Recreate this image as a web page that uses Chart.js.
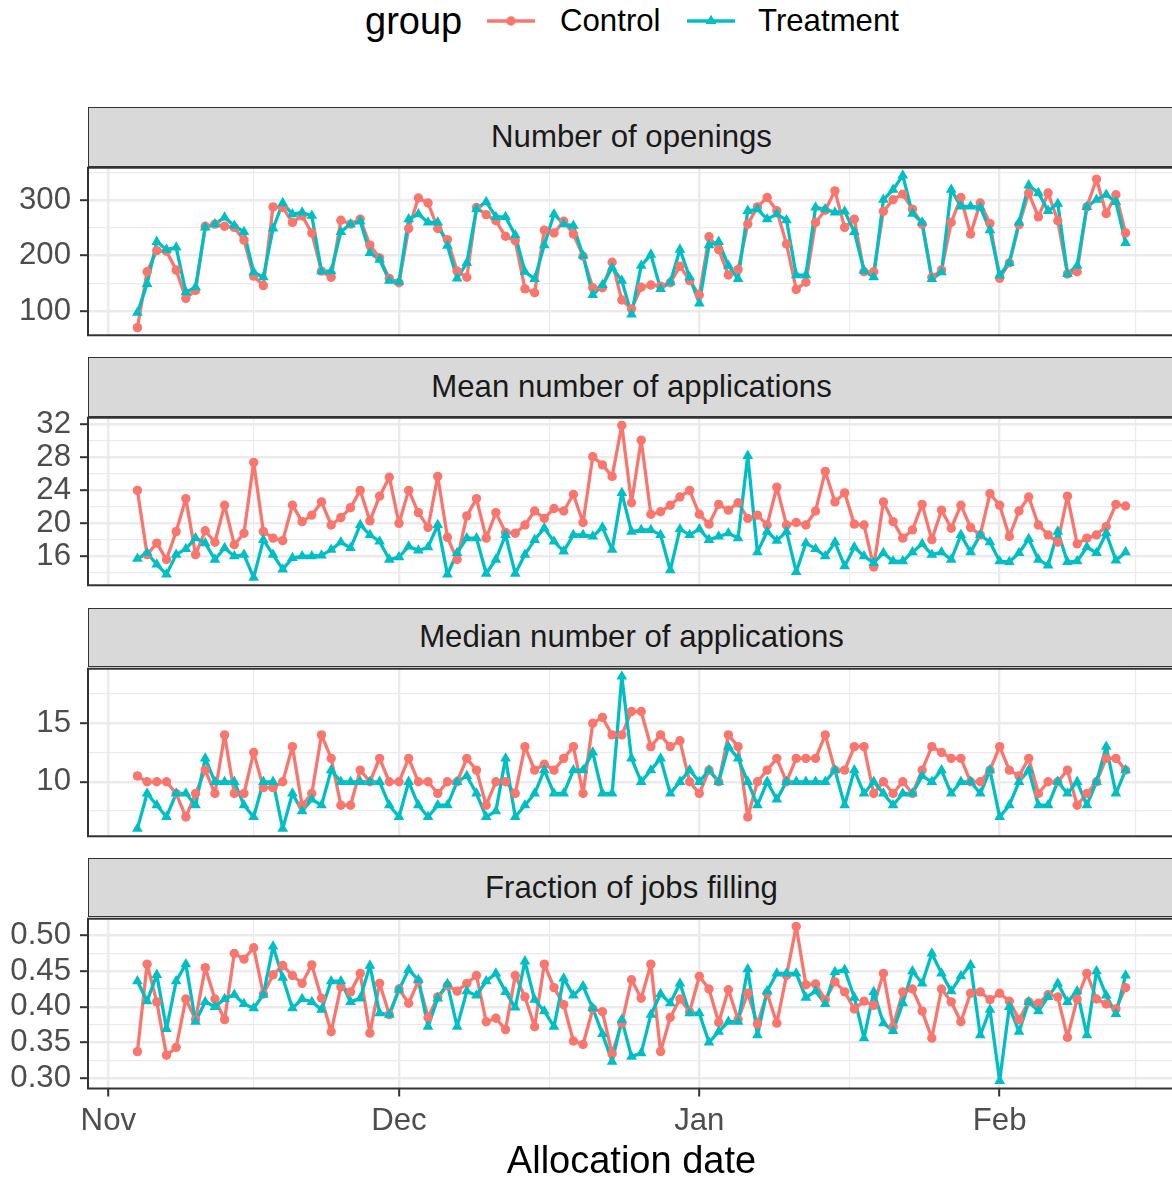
<!DOCTYPE html>
<html>
<head>
<meta charset="utf-8">
<script src="https://cdn.jsdelivr.net/npm/chart.js@4.4.1/dist/chart.umd.min.js"></script>
<style>
  html, body { margin: 0; padding: 0; background: #ffffff; overflow: hidden; width: 1172px; height: 1178px; }
  body { position: relative; font-family: "Liberation Sans", Arial, Helvetica, sans-serif; }
  canvas { position: absolute; left: 0; }
  .strip { position: absolute; left: 88px; width: 1087px; background: #D9D9D9; border: 1.5px solid #333333;
           box-sizing: border-box; display: flex; align-items: center; justify-content: center;
           font-size: 31.2px; color: #1A1A1A; z-index: 2; }
  .lg { position: absolute; top: 21px; transform: translateY(-50%); white-space: nowrap; line-height: 1; }
</style>
</head>
<body>
<div class="lg" style="left:365px;font-size:38px;color:#000;">group</div>
<svg class="lg" style="left:487px" width="48" height="30">
  <line x1="0" y1="15" x2="48" y2="15" stroke="#F8766D" stroke-width="3.3"/>
  <circle cx="24" cy="15" r="4.7" fill="#F8766D"/>
</svg>
<div class="lg" style="left:560px;font-size:31.2px;color:#000;">Control</div>
<svg class="lg" style="left:687px" width="48" height="30">
  <line x1="0" y1="15" x2="48" y2="15" stroke="#00BFC4" stroke-width="3.3"/>
  <polygon points="24,8.8 29.4,18.1 18.6,18.1" fill="#00BFC4"/>
</svg>
<div class="lg" style="left:758px;font-size:31.2px;color:#000;">Treatment</div>

<script>
// Allocation dates, as days since 1 November (4 Nov ... 13 Feb)
const dayOffsets = [];
for (let d = 3; d <= 105; d++) dayOffsets.push(d);

// Month axis
const monthStarts = [-31, 0, 30, 61, 92, 120];          // Oct 1 ... Mar 1
const monthTickValues = [0, 30, 61, 92];
const monthTickLabels = ['Nov', 'Dec', 'Jan', 'Feb'];

// Number of openings
const openingsControl = [70,171,209,208,174,123,137,253,257,253,251,228,163,146,288,287,260,272,241,172,161,264,257,266,219,196,159,151,249,304,295,249,229,172,161,287,274,263,235,227,140,133,246,241,262,239,199,142,142,188,120,104,143,147,145,151,181,155,129,234,211,165,175,257,288,305,281,221,139,152,260,282,317,251,266,171,171,280,301,311,284,257,161,174,260,305,239,295,258,159,187,256,313,270,313,263,167,171,288,338,276,310,241];
const openingsTreatment = [97,149,225,211,215,134,143,251,257,269,254,243,170,161,249,295,275,278,272,172,172,243,257,262,205,193,155,153,266,275,260,260,218,159,187,284,297,270,270,237,171,158,219,275,257,254,200,129,147,178,155,94,182,202,140,152,211,161,114,219,225,182,158,281,284,266,275,264,165,165,287,284,278,280,243,173,161,301,319,345,276,260,158,170,319,289,289,287,246,165,187,260,327,313,281,294,167,182,288,301,310,297,223];
const openingsTicks = [100, 200, 300];

// Mean number of applications
const meanAppsControl = [24.0,16.2,17.6,15.6,19.0,23.0,16.2,19.1,17.7,22.2,17.4,18.8,27.4,19.0,18.2,17.9,22.2,20.2,21.0,22.6,19.8,20.7,21.9,24.0,20.3,23.3,25.6,20.0,24.0,21.3,19.5,25.7,18.3,15.6,20.9,23.0,18.2,21.3,18.9,18.8,19.8,21.5,20.6,21.8,21.5,23.5,20.1,28.1,27.1,25.7,31.9,22.5,30.1,21.1,21.4,22.2,23.2,24.0,21.1,19.9,22.3,21.6,22.5,20.6,21.0,19.8,24.4,19.8,20.1,19.8,21.5,26.3,22.6,23.7,19.9,19.8,14.7,22.6,20.2,18.2,19.2,22.3,18.0,21.6,19.4,22.2,19.5,18.6,23.6,22.2,18.4,21.5,23.2,19.8,18.6,17.7,23.3,17.5,18.2,18.6,19.6,22.3,22.1];
const meanAppsTreatment = [15.7,16.4,15.0,13.8,16.2,16.9,18.2,17.6,15.6,17.0,16.0,16.2,13.4,18.0,16.2,14.4,15.8,16.0,16.0,16.1,16.8,17.7,17.0,19.8,18.6,17.8,15.6,15.9,17.2,16.7,17.1,19.8,13.8,16.4,18.2,18.2,13.9,15.6,18.6,13.9,16.2,18.0,19.4,17.8,16.6,18.6,18.6,18.4,19.5,16.8,23.7,19.0,19.2,19.2,18.6,14.3,19.3,18.6,19.3,18.0,18.4,18.8,18.2,28.2,16.5,19.0,17.9,19.0,14.1,17.6,16.9,16.0,17.7,14.8,17.1,16.0,15.2,16.4,15.4,15.4,16.5,17.5,16.2,16.5,15.6,18.6,16.5,18.6,17.7,15.4,15.3,16.4,18.1,15.6,14.9,19.0,15.3,15.4,17.1,16.4,18.8,15.5,16.5];
const meanAppsTicks = [16, 20, 24, 28, 32];

// Median number of applications
const medianAppsControl = [10.5,10,10,10,9,7,9,11,9,14,9,9,12.5,9.5,9.5,10,13,8,9,14,12,8,8,11,10,12,10,10,12,10,10,9,10,10,12,11,8,10,10,9,13,11,11.5,11,12,13,9,15,15.5,14,14,16,16,13,14,13,13.5,10,9,11,10,14,13,7,10,11,12,10,12,12,12,14,11,11,13,13,9,10,9,10,9,11,13,12.5,12,12,10,10,11,13,11,10.5,12,9,10,10,11,8,9,10,12,12,11];
const medianAppsTreatment = [6,9,8,7,9,9,8,12,10,10,10,8,7,10,10,6,9,7.5,8.5,8,11,10,10,10,10,10,8,7,10,8,7,8,8,10,10.5,9,7,7.5,12,7,8,9,11,9,9,11,11,12.5,9,9,19,12,10,11,12,9,10,11,10,11,10,13,12,10,8,10,8.5,10,10,10,10,10,11,8,11,9,10,9,8,9,9,10.5,10,11,9,10,10,9,11,7,8,10,11,8,8,10,9,10,8,10,13,9,11];
const medianAppsTicks = [10, 15];

// Fraction of jobs filling
const fillControl = [0.337,0.460,0.407,0.332,0.343,0.411,0.382,0.455,0.411,0.382,0.475,0.467,0.483,0.418,0.445,0.458,0.444,0.433,0.459,0.412,0.365,0.428,0.421,0.447,0.363,0.433,0.389,0.425,0.405,0.436,0.385,0.414,0.430,0.422,0.433,0.444,0.379,0.384,0.368,0.444,0.414,0.372,0.460,0.427,0.403,0.352,0.347,0.397,0.393,0.334,0.377,0.438,0.412,0.460,0.337,0.385,0.411,0.393,0.443,0.425,0.378,0.424,0.382,0.419,0.376,0.419,0.377,0.444,0.513,0.431,0.432,0.410,0.435,0.421,0.397,0.408,0.402,0.447,0.372,0.421,0.425,0.394,0.356,0.425,0.407,0.379,0.419,0.421,0.410,0.419,0.408,0.382,0.407,0.405,0.417,0.414,0.357,0.411,0.447,0.411,0.404,0.397,0.427];
const fillTreatment = [0.436,0.408,0.445,0.369,0.436,0.460,0.379,0.407,0.400,0.411,0.417,0.404,0.398,0.417,0.485,0.441,0.398,0.411,0.407,0.396,0.436,0.436,0.407,0.412,0.458,0.391,0.389,0.424,0.452,0.438,0.372,0.412,0.432,0.372,0.422,0.416,0.436,0.447,0.421,0.399,0.464,0.410,0.394,0.372,0.440,0.416,0.429,0.398,0.362,0.323,0.382,0.330,0.335,0.389,0.418,0.405,0.433,0.391,0.391,0.350,0.365,0.379,0.379,0.453,0.360,0.422,0.447,0.447,0.447,0.413,0.422,0.404,0.449,0.452,0.413,0.356,0.421,0.377,0.366,0.405,0.450,0.433,0.475,0.447,0.422,0.443,0.459,0.360,0.396,0.296,0.400,0.365,0.407,0.394,0.414,0.433,0.407,0.422,0.360,0.450,0.416,0.390,0.444];
const fillTicks = [0.30, 0.35, 0.40, 0.45, 0.50];

// Facet panels, top to bottom
const panels = [
  { title: 'Number of openings', control: openingsControl, treatment: openingsTreatment, ticks: openingsTicks, fmt: v => String(v) },
  { title: 'Mean number of applications', control: meanAppsControl, treatment: meanAppsTreatment, ticks: meanAppsTicks, fmt: v => String(v) },
  { title: 'Median number of applications', control: medianAppsControl, treatment: medianAppsTreatment, ticks: medianAppsTicks, fmt: v => String(v) },
  { title: 'Fraction of jobs filling', control: fillControl, treatment: fillTreatment, ticks: fillTicks, fmt: v => v.toFixed(2) }
];

const RED = '#F8766D', TEAL = '#00BFC4', GRID = '#EBEBEB', INK = '#333333', AXIS_TEXT = '#4D4D4D';
const FONT = '"Liberation Sans", Arial, Helvetica, sans-serif';
const TICK_FONT = 31.2;
const LEFT = 88, RIGHT = 1175;
const STRIP_TOP0 = 107, PANEL_STEP = 250.3, STRIP_H = 58.6, PLOT_H = 172;
const PAD = 25, CANVAS_BOTTOM = 1185;

const near = (a, b) => Math.abs(a - b) < 1e-9 * Math.max(1, Math.abs(a));

// Minor breaks halfway between major breaks, one step past each end
function withMinors(majors) {
  const out = [];
  const step0 = majors.length > 1 ? majors[1] - majors[0] : 1;
  const stepN = majors.length > 1 ? majors[majors.length - 1] - majors[majors.length - 2] : 1;
  out.push(majors[0] - step0 / 2);
  majors.forEach((m, i) => {
    out.push(m);
    if (i < majors.length - 1) out.push((m + majors[i + 1]) / 2);
  });
  out.push(majors[majors.length - 1] + stepN / 2);
  return out;
}

const xMinors = [];
for (let i = 0; i < monthStarts.length - 1; i++) xMinors.push((monthStarts[i] + monthStarts[i + 1]) / 2);
const xMin = dayOffsets[0] - 0.05 * (dayOffsets[dayOffsets.length - 1] - dayOffsets[0]);
const xMax = dayOffsets[dayOffsets.length - 1] + 0.05 * (dayOffsets[dayOffsets.length - 1] - dayOffsets[0]);
const xTickValues = monthTickValues.concat(xMinors).filter(v => v >= xMin && v <= xMax).sort((a, b) => a - b);
const isMonthTick = v => monthTickValues.some(m => near(m, v));

const panelFrame = {
  id: 'panelFrame',
  afterDatasetsDraw(chart) {
    const { ctx, chartArea: { left, top, right, bottom } } = chart;
    ctx.save();
    ctx.strokeStyle = INK;
    ctx.lineWidth = 2;
    ctx.strokeRect(left, top, right - left, bottom - top);
    ctx.restore();
  }
};

const toPoints = vals => dayOffsets.map((d, i) => ({ x: d, y: vals[i] }));

panels.forEach((p, idx) => {
  const isBottom = idx === panels.length - 1;
  const stripTop = STRIP_TOP0 + PANEL_STEP * idx;
  const plotTop = stripTop + STRIP_H;
  const plotBottom = plotTop + PLOT_H;

  const strip = document.createElement('div');
  strip.className = 'strip';
  strip.style.top = stripTop + 'px';
  strip.style.height = (STRIP_H + 1) + 'px';
  strip.textContent = p.title;
  document.body.appendChild(strip);

  const canvasTop = Math.floor(plotTop) - PAD;
  const canvasBottom = isBottom ? CANVAS_BOTTOM : Math.ceil(plotBottom) + PAD;
  const canvas = document.createElement('canvas');
  canvas.width = RIGHT;
  canvas.height = canvasBottom - canvasTop;
  canvas.style.top = canvasTop + 'px';
  document.body.appendChild(canvas);

  const all = p.control.concat(p.treatment);
  const lo = Math.min(...all), hi = Math.max(...all);
  const yMin = lo - 0.05 * (hi - lo), yMax = hi + 0.05 * (hi - lo);
  const yTickValues = withMinors(p.ticks).filter(v => v >= yMin && v <= yMax);
  const isMajorY = v => p.ticks.some(m => near(m, v));

  const padTop = plotTop - canvasTop;
  const padBottom = isBottom ? 0 : canvasBottom - plotBottom;
  const xAxisH = isBottom ? canvasBottom - plotBottom : 0;

  new Chart(canvas, {
    type: 'line',
    data: {
      datasets: [
        { label: 'Treatment', data: toPoints(p.treatment), showLine: false, pointStyle: 'triangle',
          pointRadius: 6.2, pointBackgroundColor: TEAL, pointBorderWidth: 0, borderColor: TEAL, order: 0 },
        { label: 'Control', data: toPoints(p.control), showLine: false, pointStyle: 'circle',
          pointRadius: 4.7, pointBackgroundColor: RED, pointBorderWidth: 0, borderColor: RED, order: 1 },
        { label: 'Treatment', data: toPoints(p.treatment), borderColor: TEAL, borderWidth: 3.3, pointRadius: 0, order: 2 },
        { label: 'Control', data: toPoints(p.control), borderColor: RED, borderWidth: 3.3, pointRadius: 0, order: 3 }
      ]
    },
    options: {
      responsive: false,
      animation: false,
      devicePixelRatio: 1,
      events: [],
      layout: { autoPadding: false, padding: { left: 0, right: 0, top: padTop, bottom: padBottom } },
      elements: { line: { tension: 0, borderJoinStyle: 'round', borderCapStyle: 'butt' } },
      plugins: { legend: { display: false }, tooltip: { enabled: false } },
      scales: {
        x: {
          type: 'linear', min: xMin, max: xMax,
          afterBuildTicks: s => { s.ticks = xTickValues.map(v => ({ value: v })); },
          afterFit: s => { s.height = xAxisH; },
          border: { display: false },
          grid: {
            color: GRID,
            lineWidth: c => (c.tick && isMonthTick(c.tick.value)) ? 2.4 : 1.2,
            drawTicks: isBottom,
            tickLength: 8,
            tickWidth: 2,
            tickColor: c => (c.tick && isMonthTick(c.tick.value)) ? INK : 'rgba(0,0,0,0)'
          },
          ticks: {
            display: isBottom, autoSkip: false, maxRotation: 0, minRotation: 0, padding: 6,
            color: AXIS_TEXT, font: { size: TICK_FONT, family: FONT },
            callback: v => { const i = monthTickValues.findIndex(m => near(m, v)); return i >= 0 ? monthTickLabels[i] : ''; }
          },
          title: {
            display: isBottom, text: 'Allocation date', color: '#000000',
            font: { size: 38, family: FONT }, padding: { top: 0, bottom: 0 }
          }
        },
        y: {
          type: 'linear', min: yMin, max: yMax,
          afterBuildTicks: s => { s.ticks = yTickValues.map(v => ({ value: v })); },
          afterFit: s => { s.width = LEFT; },
          border: { display: false },
          grid: {
            color: GRID,
            lineWidth: c => (c.tick && isMajorY(c.tick.value)) ? 2.4 : 1.2,
            drawTicks: true,
            tickLength: 8,
            tickWidth: 2,
            tickColor: c => (c.tick && isMajorY(c.tick.value)) ? INK : 'rgba(0,0,0,0)'
          },
          ticks: {
            autoSkip: false, padding: 9, color: AXIS_TEXT, font: { size: TICK_FONT, family: FONT },
            callback: v => isMajorY(v) ? p.fmt(v) : ''
          }
        }
      }
    },
    plugins: [panelFrame]
  });
});
</script>
</body>
</html>
